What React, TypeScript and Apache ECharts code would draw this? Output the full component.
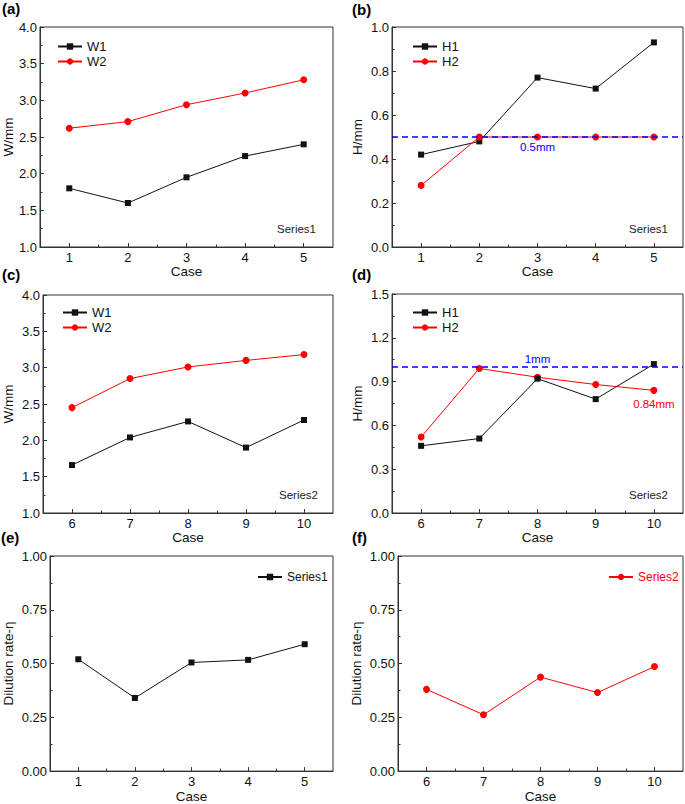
import React, { useEffect, useRef } from 'react';
import * as echarts from 'echarts';

// ---------- data ----------
const casesS1 = [1, 2, 3, 4, 5];
const casesS2 = [6, 7, 8, 9, 10];
const minorTicksS1 = [1.5, 2.5, 3.5, 4.5];
const minorTicksS2 = [6.5, 7.5, 8.5, 9.5];

const w1S1 = [1.8, 1.6, 1.95, 2.24, 2.4];
const w2S1 = [2.62, 2.71, 2.94, 3.1, 3.28];
const h1S1 = [0.42, 0.48, 0.77, 0.72, 0.93];
const h2S1 = [0.28, 0.5, 0.5, 0.5, 0.5];

const w1S2 = [1.66, 2.04, 2.26, 1.9, 2.28];
const w2S2 = [2.45, 2.85, 3.01, 3.1, 3.18];
const h1S2 = [0.46, 0.51, 0.92, 0.78, 1.02];
const h2S2 = [0.52, 0.99, 0.93, 0.88, 0.84];

const dilutionS1 = [0.52, 0.34, 0.505, 0.517, 0.59];
const dilutionS2 = [0.38, 0.262, 0.437, 0.365, 0.486];

const hLimitS1 = 0.5;
const hLimitS2 = 1.0;

const panelLabels = ['(a)', '(b)', '(c)', '(d)', '(e)', '(f)'];

// ---------- style ----------
const FONT = '"Liberation Sans", Arial, Helvetica, sans-serif';
const BLACK = '#111111';
const RED = '#ff0000';
const BLUE = '#0000ff';
const AXIS = '#333333';

const grids = [
  { left: 37, top: 27, width: 296, height: 220 },
  { left: 392, top: 27, width: 291, height: 220 },
  { left: 42, top: 295, width: 291, height: 218 },
  { left: 392, top: 294, width: 291, height: 219 },
  { left: 48, top: 556, width: 285, height: 218 },
  { left: 398, top: 556, width: 285, height: 218 },
];

const pairs = (xs: number[], ys: number[]) => xs.map((x, i) => [x, ys[i]]);

function buildOption() {
  const grid = grids.map((g) => ({
    ...g,
    show: true,
    borderColor: AXIS,
    borderWidth: 1,
    backgroundColor: 'transparent',
    containLabel: false,
  }));

  const xAxis: any[] = [];
  grids.forEach((g, i) => {
    const isS2 = i === 2 || i === 3 || i === 5;
    const c = isS2 ? casesS2 : casesS1;
    const minorT = isS2 ? minorTicksS2 : minorTicksS1;
    const min = c[0] - 0.5;
    const max = c[c.length - 1] + 0.5;
    xAxis.push({
      gridIndex: i,
      type: 'value',
      position: 'bottom',
      min,
      max,
      axisLine: { show: true, onZero: false, lineStyle: { color: AXIS, width: 1 } },
      axisTick: { show: true, inside: true, length: 4, customValues: c, lineStyle: { color: AXIS } },
      axisLabel: {
        show: true,
        customValues: c,
        fontSize: 13,
        color: BLACK,
        fontFamily: FONT,
        margin: 4,
      },
      splitLine: { show: false },
      name: 'Case',
      nameLocation: 'middle',
      nameGap: 15,
      nameTextStyle: { fontSize: 13.5, color: BLACK, fontFamily: FONT },
    });
    xAxis.push({
      gridIndex: i,
      type: 'value',
      position: 'bottom',
      offset: 0,
      min,
      max,
      axisLine: { show: false },
      axisTick: { show: true, inside: true, length: 2.5, customValues: minorT, lineStyle: { color: AXIS } },
      axisLabel: { show: false },
      splitLine: { show: false },
    });
  });

  const yDefs = [
    { min: 1, max: 4, interval: 0.5, dec: 1, name: 'W/mm', gap: 24 },
    { min: 0, max: 1, interval: 0.2, dec: 1, name: 'H/mm', gap: 28 },
    { min: 1, max: 4, interval: 0.5, dec: 1, name: 'W/mm', gap: 28 },
    { min: 0, max: 1.5, interval: 0.3, dec: 1, name: 'H/mm', gap: 28 },
    { min: 0, max: 1, interval: 0.25, dec: 2, name: 'Dilution rate-η', gap: 35 },
    { min: 0, max: 1, interval: 0.25, dec: 2, name: 'Dilution rate-η', gap: 35 },
  ];
  const yAxis = yDefs.map((d, i) => ({
    gridIndex: i,
    type: 'value',
    min: d.min,
    max: d.max,
    interval: d.interval,
    axisLine: { show: true, lineStyle: { color: AXIS, width: 1 } },
    axisTick: { show: true, inside: true, length: 4, lineStyle: { color: AXIS } },
    minorTick: { show: true, splitNumber: 2, length: 2.5, lineStyle: { color: AXIS } },
    splitLine: { show: false },
    minorSplitLine: { show: false },
    axisLabel: {
      formatter: (v: number) => v.toFixed(d.dec),
      fontSize: 13,
      color: BLACK,
      fontFamily: FONT,
      margin: 3,
    },
    name: d.name,
    nameLocation: 'middle',
    nameRotate: 90,
    nameGap: d.gap,
    nameTextStyle: { fontSize: 13.5, color: BLACK, fontFamily: FONT },
  }));

  const blackSeries = (name: string, xs: number[], ys: number[], gi: number, extra: any = {}) => ({
    name,
    type: 'line',
    xAxisIndex: gi * 2,
    yAxisIndex: gi,
    data: pairs(xs, ys),
    symbol: 'rect',
    symbolSize: 6,
    itemStyle: { color: BLACK },
    lineStyle: { color: BLACK, width: 1 },
    z: 3,
    ...extra,
  });
  const redSeries = (name: string, xs: number[], ys: number[], gi: number, extra: any = {}) => ({
    name,
    type: 'line',
    xAxisIndex: gi * 2,
    yAxisIndex: gi,
    data: pairs(xs, ys),
    symbol: 'circle',
    symbolSize: 7,
    itemStyle: { color: RED },
    lineStyle: { color: RED, width: 1 },
    z: 4,
    ...extra,
  });

  const limitLine = (value: number, text: string, pos: string, dist: number) => ({
    silent: true,
    symbol: 'none',
    lineStyle: { color: BLUE, type: [6, 4], width: 1.5 },
    label: {
      show: true,
      formatter: text,
      position: pos,
      color: BLUE,
      fontSize: 11.5,
      fontFamily: FONT,
      distance: dist,
    },
    data: [{ yAxis: value }],
  });

  const h2S2Data = pairs(casesS2, h2S2).map((p, i) =>
    i === h2S2.length - 1
      ? {
          value: p,
          label: {
            show: true,
            formatter: `${h2S2[i].toFixed(2)}mm`,
            position: 'bottom',
            distance: 4,
            color: RED,
            fontSize: 11.5,
            fontFamily: FONT,
          },
        }
      : p
  );

  const series = [
    blackSeries('W1', casesS1, w1S1, 0),
    redSeries('W2', casesS1, w2S1, 0),
    blackSeries('H1', casesS1, h1S1, 1),
    redSeries('H2', casesS1, h2S1, 1, { markLine: limitLine(hLimitS1, '0.5mm', 'insideMiddleBottom', 4) }),
    blackSeries('W1', casesS2, w1S2, 2),
    redSeries('W2', casesS2, w2S2, 2),
    blackSeries('H1', casesS2, h1S2, 3, { z: 4 }),
    redSeries('H2', casesS2, h2S2, 3, {
      data: h2S2Data,
      z: 3,
      markLine: limitLine(hLimitS2, '1mm', 'insideMiddleTop', 2),
    }),
    blackSeries('Series1', casesS1, dilutionS1, 4),
    redSeries('Series2', casesS2, dilutionS2, 5),
  ];

  const legendBase = {
    orient: 'vertical',
    padding: 0,
    itemWidth: 24,
    itemHeight: 8,
    itemGap: 2,
    selectedMode: false,
    textStyle: { fontSize: 13, color: BLACK, fontFamily: FONT },
  };
  const legend = [
    { ...legendBase, left: 57, top: 40, data: ['W1', 'W2'] },
    { ...legendBase, left: 412, top: 40, data: ['H1', 'H2'] },
    { ...legendBase, left: 62, top: 306, data: ['W1', 'W2'] },
    { ...legendBase, left: 412, top: 306, data: ['H1', 'H2'] },
    { ...legendBase, left: 257, top: 571, textStyle: { ...legendBase.textStyle, fontSize: 12 }, data: ['Series1'] },
    {
      ...legendBase,
      left: 608,
      top: 571,
      textStyle: { ...legendBase.textStyle, fontSize: 12, color: RED },
      data: ['Series2'],
    },
  ];

  const labelPos = [
    [2, 8.5],
    [352, 9],
    [2, 274],
    [352, 274.5],
    [1, 537.5],
    [352, 537.5],
  ];
  const graphic: any[] = panelLabels.map((t, i) => ({
    type: 'text',
    x: labelPos[i][0],
    y: labelPos[i][1],
    style: {
      text: t,
      font: `bold 15px ${FONT}`,
      fill: '#000',
      textAlign: 'left',
      textVerticalAlign: 'middle',
    },
  }));
  const annot = [
    ['Series1', 316, 229],
    ['Series1', 668, 229],
    ['Series2', 318, 495],
    ['Series2', 668, 495],
  ];
  annot.forEach((a) => {
    graphic.push({
      type: 'text',
      x: a[1],
      y: a[2],
      style: {
        text: a[0],
        font: `11.5px ${FONT}`,
        fill: '#222',
        textAlign: 'right',
        textVerticalAlign: 'middle',
      },
    });
  });

  return {
    animation: false,
    backgroundColor: '#ffffff',
    textStyle: { fontFamily: FONT },
    grid,
    xAxis,
    yAxis,
    legend,
    series,
    graphic,
  };
}

export default function App() {
  const ref = useRef<HTMLDivElement>(null);
  useEffect(() => {
    if (!ref.current) return;
    const chart = echarts.init(ref.current, undefined, { renderer: 'svg' });
    chart.setOption(buildOption() as any);
    return () => chart.dispose();
  }, []);
  return (
    <div
      ref={ref}
      style={{ position: 'fixed', left: 0, top: 0, width: 685, height: 804, background: '#fff' }}
    />
  );
}
